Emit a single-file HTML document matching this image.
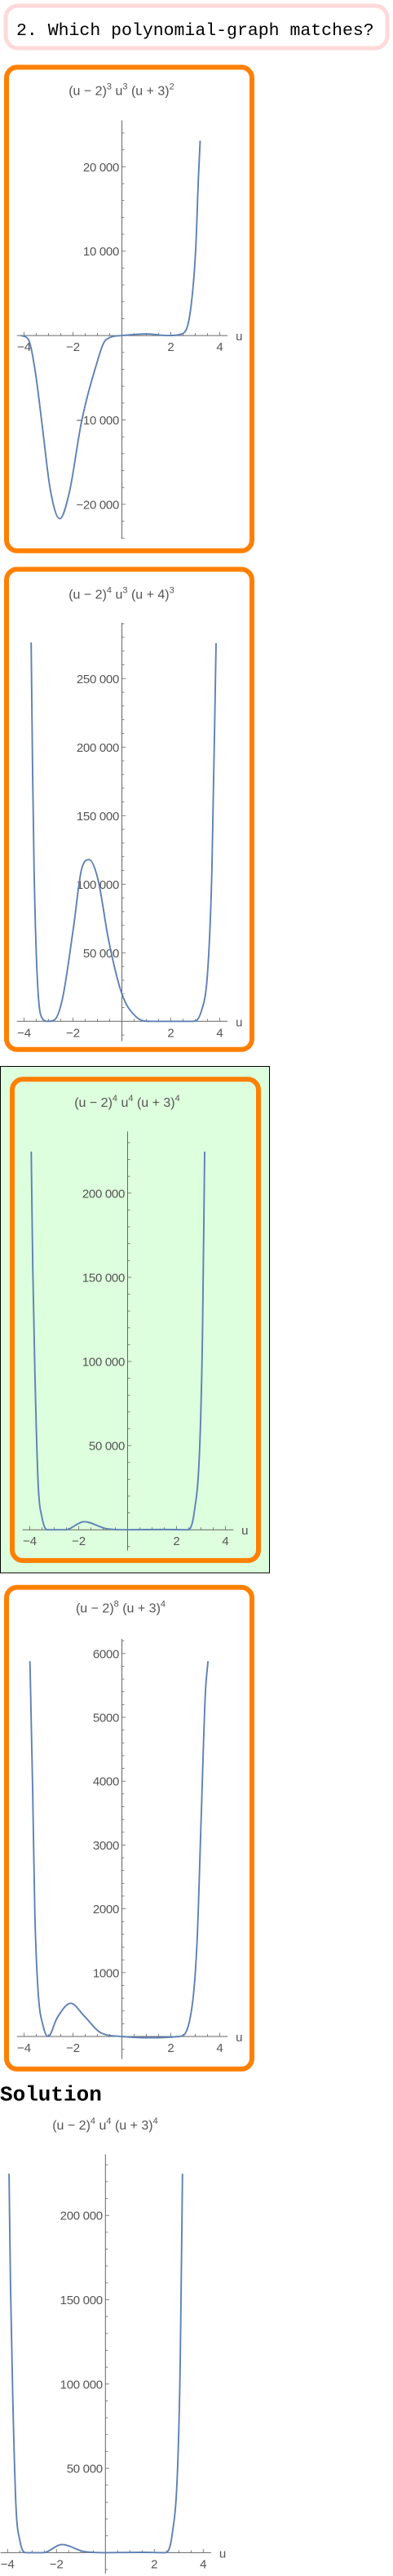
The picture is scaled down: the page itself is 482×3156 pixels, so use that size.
<!DOCTYPE html>
<html><head><meta charset="utf-8">
<style>
html,body{margin:0;padding:0;background:#fff;}
svg{display:block;}
.tl{font-family:"Liberation Sans",sans-serif;font-size:16px;fill:#555;}
.sup{font-size:11px;}
</style></head>
<body>
<svg id="page" width="482" height="3156" viewBox="0 0 482 3156" xmlns="http://www.w3.org/2000/svg">
  <rect x="7" y="7" width="468" height="52" rx="15" fill="#fff" stroke="#ffd9d9" stroke-width="5"/>
  <text x="20" y="43" font-family="Liberation Mono, monospace" font-size="21.5" fill="#000">2. Which polynomial-graph matches?</text>

  <rect x="8" y="82.4" width="301" height="592.4" rx="13" fill="#fff" stroke="#ff8000" stroke-width="6"/>
  <rect x="8" y="697.5" width="301" height="588.3" rx="13" fill="#fff" stroke="#ff8000" stroke-width="6"/>
  <rect x="0.5" y="1306.5" width="330" height="620.5" fill="#ddffdd" stroke="#000" stroke-width="1"/>
  <rect x="15" y="1322.3" width="302" height="589.6" rx="13" fill="#ddffdd" stroke="#ff8000" stroke-width="6"/>
  <rect x="8" y="1944.7" width="301" height="590.2" rx="13" fill="#fff" stroke="#ff8000" stroke-width="6"/>

  <text x="0" y="2573.4" font-family="Liberation Mono, monospace" font-size="26" font-weight="bold" fill="#000">Solution</text>

  <text class="tl" x="149" y="116.5" text-anchor="middle">(u − 2)<tspan class="sup" dy="-7">3</tspan><tspan dy="7"> u</tspan><tspan class="sup" dy="-7">3</tspan><tspan dy="7"> (u + 3)</tspan><tspan class="sup" dy="-7">2</tspan></text>
  <text class="tl" x="149" y="733.3" text-anchor="middle">(u − 2)<tspan class="sup" dy="-7">4</tspan><tspan dy="7"> u</tspan><tspan class="sup" dy="-7">3</tspan><tspan dy="7"> (u + 4)</tspan><tspan class="sup" dy="-7">3</tspan></text>
  <text class="tl" x="156" y="1355.9" text-anchor="middle">(u − 2)<tspan class="sup" dy="-7">4</tspan><tspan dy="7"> u</tspan><tspan class="sup" dy="-7">4</tspan><tspan dy="7"> (u + 3)</tspan><tspan class="sup" dy="-7">4</tspan></text>
  <text class="tl" x="148" y="1975.5" text-anchor="middle">(u − 2)<tspan class="sup" dy="-7">8</tspan><tspan dy="7"> (u + 3)</tspan><tspan class="sup" dy="-7">4</tspan></text>
  <text class="tl" x="129" y="2608.8" text-anchor="middle">(u − 2)<tspan class="sup" dy="-7">4</tspan><tspan dy="7"> u</tspan><tspan class="sup" dy="-7">4</tspan><tspan dy="7"> (u + 3)</tspan><tspan class="sup" dy="-7">4</tspan></text>
  <g id="plots"></g>
</svg>
<script>
// ---- data ----
const XTICKS = [-4, -2, 2, 4];
const XLABELS = ["−4", "−2", "2", "4"];

const P1_U = [-4.13, -3.82, -3.54, -3.26, -2.93, -2.54, -2.15, -1.65, -1.09, -0.65, 0, 1, 1.9, 2.46, 2.8, 3.02, 3.13, 3.2];
const P1_V = [0, -500, -4300, -10600, -18200, -21700, -18600, -10200, -3900, -500, 0, 200, 0, 200, 2900, 10400, 18800, 23100];
const P1_YTICKS = [-20000, -10000, 10000, 20000];
const P1_YLABELS = ["−20 000", "−10 000", "10 000", "20 000"];

const P2_U = [-3.71, -3.65, -3.59, -3.48, -3.32, -3.04, -2.76, -2.43, -1.98, -1.65, -1.34, -0.98, -0.54, 0, 0.57, 1.17, 2.89, 3.24, 3.52, 3.68, 3.85];
const P2_V = [276300, 181500, 110800, 40100, 4700, 0, 1000, 16500, 68400, 110800, 117900, 103700, 58900, 20000, 3500, 0, 0, 7000, 40100, 110800, 275800];
const P2_YTICKS = [50000, 100000, 150000, 200000, 250000];
const P2_YLABELS = ["50 000", "100 000", "150 000", "200 000", "250 000"];

const P3_U = [-3.94, -3.88, -3.79, -3.66, -3.49, -3.27, -2.55, -1.77, -0.88, 0, 1.46, 2.45, 2.73, 2.95, 3.06, 3.15];
const P3_V = [224700, 158200, 93300, 28400, 6700, 0, 0, 4800, 700, 0, 200, 0, 11000, 50000, 115000, 224700];
const P3_YTICKS = [50000, 100000, 150000, 200000];
const P3_YLABELS = ["50 000", "100 000", "150 000", "200 000"];

const P4_U = [-3.76, -3.65, -3.56, -3.43, -3.21, -3.01, -2.65, -2.09, -1.54, -0.87, 0, 1.13, 2.35, 2.79, 3.07, 3.24, 3.41, 3.52];
const P4_V = [5880, 3900, 1950, 730, 150, 0, 290, 520, 320, 60, 0, -20, 0, 290, 1460, 3410, 5360, 5880];
const P4_YTICKS = [1000, 2000, 3000, 4000, 5000, 6000];
const P4_YLABELS = ["1000", "2000", "3000", "4000", "5000", "6000"];

// ---- layout ----
const NS = "http://www.w3.org/2000/svg";
const root = document.getElementById("plots");
function mk(tag, attrs, parent) {
  const e = document.createElementNS(NS, tag);
  for (const k in attrs) e.setAttribute(k, attrs[k]);
  parent.appendChild(e);
  return e;
}
function monotonePath(xs, ys) {
  const n = xs.length, d = [], m = [];
  for (let i = 0; i < n - 1; i++) d.push((ys[i+1]-ys[i])/(xs[i+1]-xs[i]));
  m[0] = d[0]; m[n-1] = d[n-2];
  for (let i = 1; i < n - 1; i++) m[i] = (d[i-1]*d[i] <= 0) ? 0 : (d[i-1]+d[i])/2;
  for (let i = 0; i < n - 1; i++) {
    if (d[i] === 0) { m[i] = 0; m[i+1] = 0; continue; }
    const a = m[i]/d[i], b = m[i+1]/d[i], s = a*a + b*b;
    if (s > 9) { const t = 3/Math.sqrt(s); m[i] = t*a*d[i]; m[i+1] = t*b*d[i]; }
  }
  let p = "M" + xs[0].toFixed(2) + "," + ys[0].toFixed(2);
  for (let i = 0; i < n - 1; i++) {
    const h = (xs[i+1]-xs[i])/3;
    p += " C" + (xs[i]+h).toFixed(2) + "," + (ys[i]+m[i]*h).toFixed(2) + " " +
         (xs[i+1]-h).toFixed(2) + "," + (ys[i+1]-m[i+1]*h).toFixed(2) + " " +
         xs[i+1].toFixed(2) + "," + ys[i+1].toFixed(2);
  }
  return p;
}
function plot(name, cfg, U, V, yt, yl) {
  const g = mk("g", {}, root);
  
  
  const sx = u => cfg.x0 + 30 * u;
  const sy = v => cfg.y0 - v * cfg.py;
  const ax = "#666";
  const xa = mk("line", {x1: sx(-4.29), x2: sx(4.32), y1: cfg.y0, y2: cfg.y0, stroke: ax, "stroke-width": 1}, g);
  
  
  for (let k = -8; k <= 8; k++) {
    if (k === 0) continue;
    const major = k % 4 === 0;
    mk("line", {x1: sx(k/2), x2: sx(k/2), y1: cfg.y0, y2: cfg.y0 - (major ? 4.5 : 3), stroke: ax, "stroke-width": 0.8}, g);
  }
  XTICKS.forEach((t, i) => {
    const tx = mk("text", {x: sx(t), y: cfg.y0 + 19, "text-anchor": "middle", "font-family": "Liberation Sans, sans-serif", "font-size": 15, fill: "#555"}, g);
    
    
    tx.textContent = XLABELS[i];
  });
  const ul = mk("text", {x: sx(4.32) + 10, y: cfg.y0 + 6, "font-family": "Liberation Sans, sans-serif", "font-size": 15, fill: "#555"}, g);
  
  
  ul.textContent = "u";
  const ya = mk("line", {x1: cfg.x0, x2: cfg.x0, y1: cfg.yTop, y2: cfg.yBot, stroke: ax, "stroke-width": 1}, g);
  
  
  const vmax = (cfg.y0 - cfg.yTop) / cfg.py, vmin = (cfg.y0 - cfg.yBot) / cfg.py;
  for (let k = Math.ceil(vmin / cfg.minor); k * cfg.minor <= vmax; k++) {
    if (k === 0) continue;
    const major = k % 5 === 0;
    const y = sy(k * cfg.minor);
    mk("line", {x1: cfg.x0, x2: cfg.x0 + (major ? 4.7 : 3), y1: y, y2: y, stroke: ax, "stroke-width": 0.8}, g);
  }
  yt.forEach((t, i) => {
    const tx = mk("text", {x: cfg.x0 - 3.5, y: sy(t) + 5.5, "text-anchor": "end", "font-family": "Liberation Sans, sans-serif", "font-size": 15, "letter-spacing": "-0.3", fill: "#555"}, g);
    
    
    tx.textContent = yl[i];
  });
  const c = mk("path", {d: monotonePath(U.map(sx), V.map(sy)), fill: "none", stroke: "#5e81b5", "stroke-width": 1.9, "stroke-linejoin": "round"}, g);
  
  
}
plot("plot-1", {x0: 149.5, y0: 411.1, py: 103.4/10000, minor: 2000, yTop: 147.4, yBot: 660}, P1_U, P1_V, P1_YTICKS, P1_YLABELS);
plot("plot-2", {x0: 149.5, y0: 1251.3, py: 84.0/50000, minor: 10000, yTop: 762.9, yBot: 1275.8}, P2_U, P2_V, P2_YTICKS, P2_YLABELS);
plot("plot-3", {x0: 156.5, y0: 1874.2, py: 103.1/50000, minor: 10000, yTop: 1386.3, yBot: 1899.6}, P3_U, P3_V, P3_YTICKS, P3_YLABELS);
plot("plot-4", {x0: 149.5, y0: 2495, py: 78.2/1000, minor: 200, yTop: 2007.8, yBot: 2522.6}, P4_U, P4_V, P4_YTICKS, P4_YLABELS);
plot("solution-plot", {x0: 129.3, y0: 3127.4, py: 103.3/50000, minor: 10000, yTop: 2639.4, yBot: 3153}, P3_U, P3_V, P3_YTICKS, P3_YLABELS);
</script>
</body></html>
